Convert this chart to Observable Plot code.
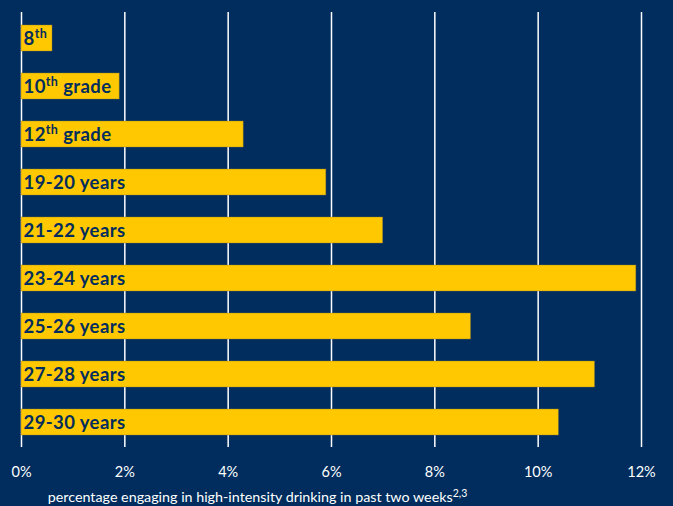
<!DOCTYPE html>
<html>
<head>
<meta charset="utf-8">
<script src="https://cdn.jsdelivr.net/npm/d3@7"></script>
<script src="https://cdn.jsdelivr.net/npm/@observablehq/plot@0.6"></script>
<style>
  html, body { margin: 0; padding: 0; background: #002d5d; }
  #chart svg { display: block; }
</style>
</head>
<body>
<div id="chart"></div>
<script>
const categories = ["8th", "10th grade", "12th grade", "19-20 years", "21-22 years", "23-24 years", "25-26 years", "27-28 years", "29-30 years"];
const values = [0.6, 1.9, 4.3, 5.9, 7.0, 11.9, 8.7, 11.1, 10.4];
const xTicks = [0, 2, 4, 6, 8, 10, 12];
const axisLabel = "percentage engaging in high-intensity drinking in past two weeks";
const axisLabelSup = "2,3";

const data = categories.map((c, i) => ({category: c, value: values[i]}));

const navy = "#002d5d";
const yellow = "#ffc800";

const chart = Plot.plot({
  width: 673,
  height: 506,
  marginLeft: 21,
  marginRight: 32,
  marginTop: 12,
  marginBottom: 59,
  style: {background: navy, fontFamily: "Lato, sans-serif"},
  x: {domain: [0, 12], ticks: xTicks},
  y: {domain: categories, paddingInner: 0.46, paddingOuter: 0.233, axis: null},
  marks: [
    Plot.gridX(xTicks, {stroke: "white", strokeOpacity: 1, strokeWidth: 1.5}),
    Plot.axisX(xTicks, {
      tickSize: 0,
      tickPadding: 19,
      tickFormat: d => d + "%",
      fill: "white",
      fontSize: 14.5,
      label: axisLabel,
      labelAnchor: "center",
      labelArrow: "none",
      labelOffset: 54
    }),
    Plot.barX(data, {x: "value", y: "category", fill: yellow, stroke: "#8a7a30", strokeWidth: 0.6, strokeOpacity: 0.7}),
    Plot.text(data, {
      x: 0, y: "category", text: "category", textAnchor: "start", dx: 2, dy: 1,
      fill: navy, fontSize: 18.5, fontWeight: "bold"
    })
  ]
});

document.getElementById("chart").appendChild(chart);

// superscripts
const ns = "http://www.w3.org/2000/svg";
chart.querySelectorAll("text").forEach(t => {
  const s = t.textContent;
  const m = s.match(/^(\d+)(th)(.*)$/);
  if (m && t.children.length === 0) {
    t.setAttribute("letter-spacing", "0.4");
    t.textContent = "";
    const a = document.createElementNS(ns, "tspan"); a.textContent = m[1];
    const b = document.createElementNS(ns, "tspan"); b.textContent = m[2];
    b.setAttribute("font-size", "12.5"); b.setAttribute("dy", "-7");
    t.appendChild(a); t.appendChild(b);
    if (m[3]) {
      const c = document.createElementNS(ns, "tspan"); c.textContent = m[3];
      c.setAttribute("dy", "7");
      t.appendChild(c);
    }
  } else if (categories.includes(s)) {
    t.setAttribute("letter-spacing", "0.4");
  }
  if (s === axisLabel) {
    t.setAttribute("font-size", "14.3");
    t.setAttribute("fill", "white");
    t.setAttribute("font-weight", "normal");
    t.setAttribute("dx", "-74");
    const sup = document.createElementNS(ns, "tspan");
    sup.textContent = axisLabelSup;
    sup.setAttribute("font-size", "10.5");
    sup.setAttribute("dy", "-5");
    t.appendChild(sup);
  }
});
</script>
</body>
</html>
